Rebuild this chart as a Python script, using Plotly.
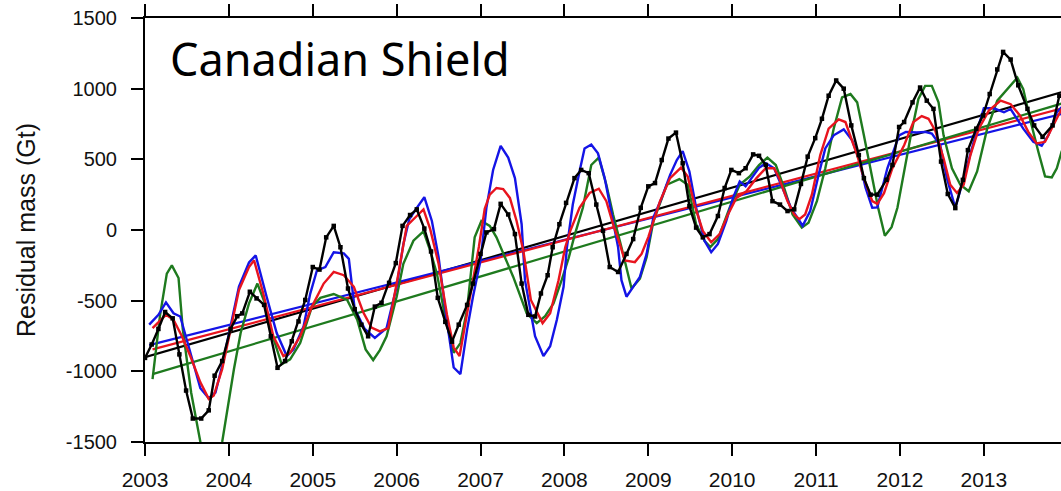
import plotly.graph_objects as go

# ---------------- data ----------------
black_t = [2003.00, 2003.08, 2003.16, 2003.24, 2003.33, 2003.41, 2003.49, 2003.57, 2003.67, 2003.76,
           2003.83, 2003.92, 2004.02, 2004.10, 2004.16, 2004.25, 2004.33, 2004.42, 2004.50, 2004.58,
           2004.67, 2004.75, 2004.83, 2004.91, 2005.00, 2005.08, 2005.16, 2005.25, 2005.33, 2005.42,
           2005.50, 2005.58, 2005.66, 2005.74, 2005.82, 2005.91, 2005.99, 2006.07, 2006.16, 2006.24,
           2006.33, 2006.41, 2006.49, 2006.58, 2006.66, 2006.74, 2006.84, 2006.91, 2007.00, 2007.07,
           2007.16, 2007.24, 2007.33, 2007.41, 2007.49, 2007.57, 2007.65, 2007.72, 2007.80, 2007.86,
           2007.94, 2008.02, 2008.12, 2008.20, 2008.29, 2008.38, 2008.46, 2008.54, 2008.64, 2008.74,
           2008.82, 2008.91, 2009.00, 2009.08, 2009.16, 2009.24, 2009.33, 2009.41, 2009.49, 2009.57,
           2009.65, 2009.73, 2009.83, 2009.91, 2009.99, 2010.08, 2010.16, 2010.25, 2010.32, 2010.40,
           2010.48, 2010.57, 2010.66, 2010.74, 2010.82, 2010.90, 2010.99, 2011.07, 2011.15, 2011.24,
           2011.33, 2011.42, 2011.51, 2011.57, 2011.65, 2011.73, 2011.84, 2011.91, 2011.99, 2012.05,
           2012.15, 2012.24, 2012.32, 2012.40, 2012.49, 2012.57, 2012.66, 2012.75, 2012.81, 2012.91,
           2012.99, 2013.07, 2013.16, 2013.23, 2013.32, 2013.41, 2013.52, 2013.60, 2013.70, 2013.82,
           2013.90]
black_v = [-905, -810, -700, -580, -625, -880, -1136, -1334, -1334, -1276,
           -1031, -927, -700, -610, -590, -437, -484, -530, -752, -975,
           -927, -787, -647, -495, -262, -280, -52, 29, -122, -414,
           -560, -670, -752, -542, -515, -374, -234, 29, 106, 146,
           10, -152, -480, -650, -790, -670, -530, -379, -169, -17,
           6, 185, 110, -29, -379, -600, -612, -449, -320, -122,
           41, 192, 367, 425, 402, 180, -6, -262, -297, -169,
           -64, 157, 309, 332, 495, 647, 689, 472, 169, 17,
           -52, -29, 99, 297, 425, 402, 437, 535, 525, 460,
           204, 180, 134, 146, 326, 519, 650, 787, 950, 1058,
           1000, 740, 530, 367, 250, 250, 355, 460, 729, 764,
           903, 1008, 915, 857, 484, 255, 155, 355, 565, 717,
           810, 962, 1136, 1260, 1206, 1024, 857, 740, 659, 740,
           950]

blue_t = [2003.05, 2003.16, 2003.25, 2003.34, 2003.42, 2003.52, 2003.66, 2003.76, 2003.84, 2003.92,
          2004.02, 2004.12, 2004.24, 2004.32, 2004.45, 2004.57, 2004.69, 2004.77, 2004.89, 2004.97,
          2005.05, 2005.15, 2005.25, 2005.37, 2005.43, 2005.50, 2005.62, 2005.74, 2005.88, 2006.00,
          2006.08, 2006.15, 2006.24, 2006.33, 2006.42, 2006.50, 2006.60, 2006.68, 2006.76, 2006.84,
          2006.91, 2007.00, 2007.07, 2007.15, 2007.24, 2007.33, 2007.41, 2007.49, 2007.53, 2007.65,
          2007.75, 2007.83, 2007.91, 2007.99, 2008.03, 2008.10, 2008.18, 2008.24, 2008.32, 2008.40,
          2008.48, 2008.56, 2008.64, 2008.68, 2008.74, 2008.82, 2008.90, 2008.98, 2009.06, 2009.16,
          2009.26, 2009.34, 2009.41, 2009.49, 2009.57, 2009.67, 2009.75, 2009.83, 2009.93, 2010.01,
          2010.09, 2010.16, 2010.25, 2010.32, 2010.40, 2010.50, 2010.60, 2010.70, 2010.84, 2010.93,
          2011.03, 2011.11, 2011.21, 2011.33, 2011.43, 2011.51, 2011.59, 2011.67, 2011.73, 2011.85,
          2011.99, 2012.07, 2012.20, 2012.30, 2012.38, 2012.48, 2012.56, 2012.66, 2012.76, 2012.88,
          2013.00, 2013.12, 2013.24, 2013.32, 2013.47, 2013.59, 2013.69, 2013.77, 2013.87, 2013.93]
blue_v = [-670, -600, -512, -589, -612, -822, -1120, -1190, -1150, -960,
          -690, -400, -230, -180, -472, -729, -892, -845, -682, -450,
          -285, -262, -157, -165, -204, -560, -700, -764, -694, -400,
          -100, 76, 157, 232, 64, -192, -650, -973, -1020, -705,
          -472, -215, 157, 425, 596, 512, 367, 41, -355, -752,
          -892, -822, -635, -402, -122, 180, 414, 577, 605, 542,
          367, 110, -122, -355, -472, -402, -332, -169, 87, 227,
          390, 495, 558, 414, 157, -76, -157, -99, 64, 227,
          344, 309, 379, 440, 472, 437, 297, 157, 30, 134,
          390, 577, 670, 712, 635, 507, 300, 157, 160, 437,
          670, 694, 690, 694, 682, 600, 367, 157, 367, 624,
          861, 861, 833, 856, 717, 624, 596, 670, 833, 870]

red_t = [2003.09, 2003.25, 2003.34, 2003.44, 2003.54, 2003.66, 2003.76, 2003.82, 2003.92, 2004.02,
         2004.12, 2004.24, 2004.30, 2004.41, 2004.53, 2004.65, 2004.73, 2004.85, 2004.99, 2005.13,
         2005.25, 2005.37, 2005.49, 2005.60, 2005.70, 2005.80, 2005.90, 2006.00, 2006.12, 2006.24,
         2006.32, 2006.40, 2006.50, 2006.60, 2006.68, 2006.75, 2006.84, 2006.92, 2006.98, 2007.05,
         2007.11, 2007.19, 2007.27, 2007.35, 2007.43, 2007.51, 2007.60, 2007.74, 2007.83, 2007.93,
         2008.01, 2008.07, 2008.18, 2008.30, 2008.41, 2008.50, 2008.58, 2008.66, 2008.72, 2008.84,
         2008.92, 2009.00, 2009.14, 2009.26, 2009.39, 2009.47, 2009.55, 2009.65, 2009.75, 2009.85,
         2009.95, 2010.05, 2010.17, 2010.29, 2010.40, 2010.50, 2010.56, 2010.66, 2010.74, 2010.80,
         2010.87, 2010.95, 2011.05, 2011.15, 2011.27, 2011.35, 2011.49, 2011.57, 2011.67, 2011.73,
         2011.81, 2011.91, 2012.05, 2012.16, 2012.26, 2012.34, 2012.42, 2012.52, 2012.60, 2012.68,
         2012.76, 2012.84, 2012.94, 2013.06, 2013.20, 2013.32, 2013.43, 2013.53, 2013.63, 2013.73,
         2013.83, 2013.93]
red_v = [-694, -600, -635, -752, -892, -1078, -1195, -1171, -985, -705,
         -425, -262, -215, -449, -752, -892, -869, -752, -542, -379,
         -297, -320, -402, -580, -690, -717, -694, -379, 29, 99,
         146, 6, -239, -600, -830, -892, -589, -330, -120, 150,
         250, 297, 290, 227, 64, -146, -495, -659, -589, -355,
         -122, -6, 157, 262, 292, 204, 41, -99, -215, -227,
         -169, -50, 204, 367, 442, 379, 180, -6, -87, -29,
         110, 227, 274, 367, 437, 437, 367, 204, 110, 76,
         110, 250, 530, 717, 782, 764, 530, 367, 204, 185,
         260, 437, 600, 764, 806, 787, 705, 507, 320, 262,
         320, 530, 717, 845, 915, 890, 810, 694, 612, 624,
         740, 860]

green_t = [2003.09, 2003.18, 2003.26, 2003.32, 2003.40, 2003.45, 2003.55, 2003.66, 2003.78, 2003.92,
           2004.06, 2004.14, 2004.24, 2004.34, 2004.43, 2004.51, 2004.63, 2004.73, 2004.85, 2004.99,
           2005.09, 2005.25, 2005.41, 2005.53, 2005.63, 2005.72, 2005.80, 2005.88, 2006.00, 2006.08,
           2006.20, 2006.32, 2006.40, 2006.48, 2006.58, 2006.68, 2006.76, 2006.84, 2006.93, 2007.01,
           2007.11, 2007.19, 2007.30, 2007.39, 2007.55, 2007.67, 2007.77, 2007.87, 2007.97, 2008.05,
           2008.12, 2008.22, 2008.32, 2008.41, 2008.50, 2008.58, 2008.68, 2008.80, 2008.90, 2008.98,
           2009.06, 2009.22, 2009.37, 2009.47, 2009.57, 2009.67, 2009.74, 2009.83, 2009.97, 2010.09,
           2010.21, 2010.32, 2010.42, 2010.52, 2010.62, 2010.72, 2010.83, 2010.91, 2011.01, 2011.11,
           2011.21, 2011.31, 2011.41, 2011.49, 2011.57, 2011.67, 2011.74, 2011.82, 2011.90, 2011.97,
           2012.05, 2012.13, 2012.22, 2012.30, 2012.38, 2012.46, 2012.52, 2012.62, 2012.72, 2012.82,
           2012.92, 2013.04, 2013.16, 2013.28, 2013.40, 2013.47, 2013.55, 2013.65, 2013.73, 2013.81,
           2013.87, 2013.93]
green_v = [-1055, -600, -309, -250, -340, -700, -1150, -1500, -1880, -1500,
           -985, -729, -519, -379, -519, -729, -950, -915, -799, -542,
           -480, -453, -495, -635, -845, -920, -850, -752, -472, -239,
           -76, -10, -146, -309, -620, -869, -800, -560, -52, 64,
           29, -52, -200, -332, -589, -659, -610, -519, -350, -200,
           -40, 157, 460, 512, 320, 110, -122, -414, -344, -192,
           60, 320, 360, 320, 41, -76, -120, -64, 157, 320,
           379, 460, 512, 460, 297, 110, 17, 52, 204, 437,
           717, 938, 962, 903, 670, 367, 157, -41, 20, 157,
           414, 670, 927, 1020, 1020, 903, 670, 437, 320, 274,
           414, 717, 915, 997, 1078, 997, 787, 554, 379, 372,
           437, 560]

# linear trends (start/end values)
trend_names = ["black", "blue", "red", "green"]
trend_t0 = [2003.00, 2003.05, 2003.09, 2003.09]
trend_v0 = [-900, -815, -845, -1020]
trend_t1 = [2013.93, 2013.93, 2013.93, 2013.93]
trend_v1 = [975, 822, 860, 895]

x_ticks = list(range(2003, 2014))
y_ticks = [-1500, -1000, -500, 0, 500, 1000, 1500]

# ---------------- styles ----------------
colors = {"black": "#000000", "blue": "#1414e6", "red": "#e8141e", "green": "#1e7a1e"}

for a, b in [(black_t, black_v), (blue_t, blue_v), (red_t, red_v), (green_t, green_v)]:
    assert len(a) == len(b), (len(a), len(b))

fig = go.Figure()

# trend lines first (under the series)
for name, t0, v0, t1, v1 in zip(trend_names, trend_t0, trend_v0, trend_t1, trend_v1):
    fig.add_trace(go.Scatter(x=[t0, t1], y=[v0, v1], mode="lines",
                             line=dict(color=colors[name], width=2.2),
                             showlegend=False, hoverinfo="skip"))

fig.add_trace(go.Scatter(x=green_t, y=green_v, mode="lines",
                         line=dict(color=colors["green"], width=2.4), showlegend=False))
fig.add_trace(go.Scatter(x=blue_t, y=blue_v, mode="lines",
                         line=dict(color=colors["blue"], width=2.4), showlegend=False))
fig.add_trace(go.Scatter(x=red_t, y=red_v, mode="lines",
                         line=dict(color=colors["red"], width=2.4), showlegend=False))
fig.add_trace(go.Scatter(x=black_t, y=black_v, mode="lines+markers",
                         line=dict(color=colors["black"], width=2.4),
                         marker=dict(symbol="square", size=4.5, color="#000000"),
                         showlegend=False))

tick_font = dict(family="Liberation Sans, Arial, sans-serif", size=20, color="#111111")

fig.update_layout(
    width=1061, height=491,
    margin=dict(l=145, r=0, t=18, b=44),
    paper_bgcolor="white", plot_bgcolor="white",
    showlegend=False,
)

fig.update_xaxes(
    range=[2003, 2013.92], tickvals=x_ticks, ticktext=[str(v) for v in x_ticks],
    showgrid=False, zeroline=False,
    showline=True, linecolor="black", linewidth=2, mirror="ticks",
    ticks="outside", ticklen=12, tickwidth=1.5, tickcolor="black",
    tickfont=dict(family="Liberation Sans, Arial, sans-serif", size=21, color="#111111"),
    ticklabelstandoff=6,
)
fig.update_yaxes(
    range=[-1500, 1500], tickvals=y_ticks, ticktext=[str(v) for v in y_ticks],
    showgrid=False, zeroline=False,
    showline=True, linecolor="black", linewidth=2,
    ticks="outside", ticklen=12, tickwidth=1.5, tickcolor="black",
    tickfont=tick_font, ticklabelstandoff=10,
    title=dict(text="Residual mass (Gt)", standoff=23,
               font=dict(family="Liberation Sans, Arial, sans-serif", size=25, color="#111111")),
)

fig.add_annotation(
    text="Canadian Shield", xref="paper", yref="paper",
    x=(168 - 145) / (1061 - 145), y=1 - (26 - 18) / 429,
    xanchor="left", yanchor="top", showarrow=False,
    font=dict(family="Noto Sans, DejaVu Sans, sans-serif", size=45, color="black"),
)

fig.write_html("out.html")
